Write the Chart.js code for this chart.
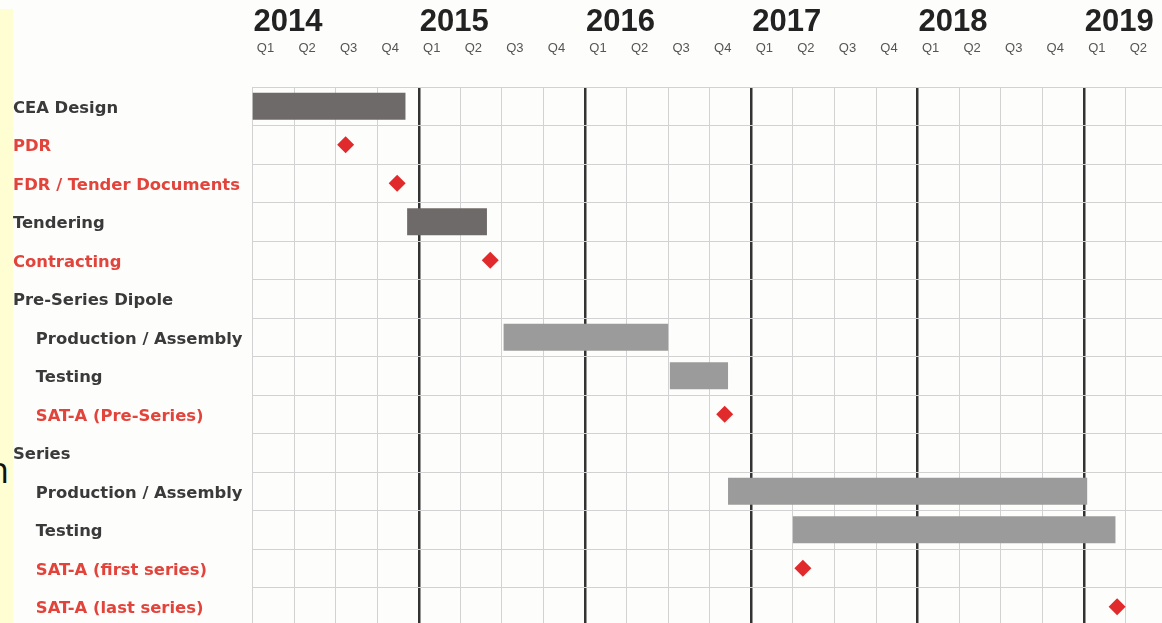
<!DOCTYPE html>
<html>
<head>
<meta charset="utf-8">
<script src="https://cdn.jsdelivr.net/npm/chart.js@4/dist/chart.umd.min.js"></script>
<style>
  html, body { margin: 0; padding: 0; background: #fdfdfb; overflow: hidden; width: 1162px; height: 623px; }
  #wrap { position: absolute; left: 0; top: 0; width: 1170px; height: 630px; }
  #side { position: absolute; left: 0; top: 9px; width: 13px; height: 614px; background: #fffdd2; overflow: hidden; }
  #side span { position: absolute; right: 4px; top: 443px; font: 36px "Open Sans", sans-serif; color: #111; line-height: 1; }
</style>
</head>
<body>
<div id="wrap"><canvas id="gantt" width="1170" height="630"></canvas></div>
<div id="side"><span>n</span></div>
<script>
// Schedule rows, top to bottom
const tasks = [
  'CEA Design', 'PDR', 'FDR / Tender Documents', 'Tendering', 'Contracting',
  'Pre-Series Dipole', 'Production / Assembly', 'Testing', 'SAT-A (Pre-Series)',
  'Series', 'Production / Assembly', 'Testing', 'SAT-A (first series)', 'SAT-A (last series)'
];
// 0 = top level, 1 = sub-item
const levels = [0, 0, 0, 0, 0, 0, 1, 1, 1, 0, 1, 1, 1, 1];
// 'task', 'milestone' or 'group'
const kinds = ['task', 'milestone', 'milestone', 'task', 'milestone', 'group', 'task', 'task',
  'milestone', 'group', 'task', 'task', 'milestone', 'milestone'];

// Activity spans in decimal years [start, end]
const spans = [
  [2014.00, 2014.92], null, null, [2014.93, 2015.41], null, null,
  [2015.51, 2016.50], [2016.51, 2016.86], null, null,
  [2016.86, 2019.02], [2017.25, 2019.19], null, null
];
// Milestone dates in decimal years
const milestones = [
  null, 2014.56, 2014.87, null, 2015.43, null, null, null, 2016.84, null,
  null, null, 2017.31, 2019.20
];

// Time axis labels
const years = [2014, 2015, 2016, 2017, 2018, 2019];
const quarterLabels = ['Q1', 'Q2', 'Q3', 'Q4'];
const startYear = 2014;
const endYear = 2019.5;

const DARK = '#3a3a3a';
const RED = '#e2433b';

// one entry per row; rows without a milestone carry no x value
const milestonePoints = milestones.map((d, i) => ({ x: d, y: i }));

const quarterTicks = [];
for (let q = 0; startYear + q * 0.25 <= endYear + 1e-9; q++) quarterTicks.push(startYear + q * 0.25);

const noOverhang = s => { s.paddingLeft = 0; s.paddingRight = 0; s.paddingTop = 0; s.paddingBottom = 0; };

new Chart(document.getElementById('gantt'), {
  type: 'bar',
  data: {
    labels: tasks,
    datasets: [
      {
        type: 'bar',
        data: spans,
        backgroundColor: ctx => (ctx.dataIndex < 5 ? '#6e6a69' : '#9b9b9b'),
        borderWidth: 0,
        barPercentage: 0.7,
        categoryPercentage: 1.0,
        xAxisID: 'x',
        yAxisID: 'y',
        order: 2
      },
      {
        type: 'scatter',
        data: milestonePoints,
        pointStyle: 'rectRot',
        pointRadius: 8.5,
        pointBackgroundColor: '#e02a2c',
        pointBorderColor: '#e02a2c',
        pointBorderWidth: 0,
        showLine: false,
        xAxisID: 'x',
        yAxisID: 'y',
        order: 1
      }
    ]
  },
  options: {
    indexAxis: 'y',
    responsive: false,
    animation: false,
    layout: { autoPadding: false, padding: { left: 13, right: 3, top: 0, bottom: 4 } },
    plugins: { legend: { display: false }, tooltip: { enabled: false } },
    scales: {
      x: {
        type: 'linear',
        position: 'top',
        weight: 0,
        min: startYear,
        max: endYear,
        afterBuildTicks: s => { s.ticks = quarterTicks.map(v => ({ value: v })); },
        afterFit: s => { s.height = 44; noOverhang(s); },
        ticks: {
          autoSkip: false,
          maxRotation: 0,
          padding: 31,
          labelOffset: 13,
          color: '#555',
          font: { family: '"Liberation Sans", Arial, sans-serif', size: 13 },
          callback: v => (v >= endYear - 1e-9 ? '' : quarterLabels[Math.round((v - startYear) * 4) % 4])
        },
        grid: {
          drawTicks: false,
          color: ctx => {
            const v = ctx.tick ? ctx.tick.value : 0;
            const isYear = Math.abs(v - Math.round(v)) < 1e-6;
            return isYear && v > startYear ? '#333333' : '#d2d2d2';
          },
          lineWidth: ctx => {
            const v = ctx.tick ? ctx.tick.value : 0;
            const isYear = Math.abs(v - Math.round(v)) < 1e-6;
            return isYear && v > startYear ? 2.5 : 1;
          }
        },
        border: { display: true, color: '#d2d2d2' }
      },
      x2: {
        type: 'linear',
        position: 'top',
        weight: 1,
        min: startYear,
        max: endYear,
        afterBuildTicks: s => { s.ticks = years.map(v => ({ value: v })); },
        afterFit: s => { s.height = 43; noOverhang(s); },
        ticks: {
          autoSkip: false,
          maxRotation: 0,
          align: 'start',
          padding: 2,
          labelOffset: 1,
          color: '#222',
          font: { family: '"Liberation Sans", Arial, sans-serif', size: 31, weight: 'bold' },
          callback: v => String(v)
        },
        grid: { display: false, drawTicks: false },
        border: { display: false }
      },
      y: {
        type: 'category',
        position: 'left',
        afterFit: s => { s.width = 239.5; noOverhang(s); },
        ticks: {
          autoSkip: false,
          crossAlign: 'far',
          padding: 0,
          labelOffset: 2,
          color: ctx => (kinds[ctx.index] === 'milestone' ? RED : DARK),
          font: { family: '"DejaVu Sans", sans-serif', size: 16.4, weight: 'bold' },
          callback: (v, i) => '    '.repeat(levels[i]) + tasks[i]
        },
        grid: { drawTicks: false, color: '#d2d2d2', lineWidth: 1 },
        border: { display: true, color: '#d2d2d2' }
      }
    }
  }
});
</script>
</body>
</html>
